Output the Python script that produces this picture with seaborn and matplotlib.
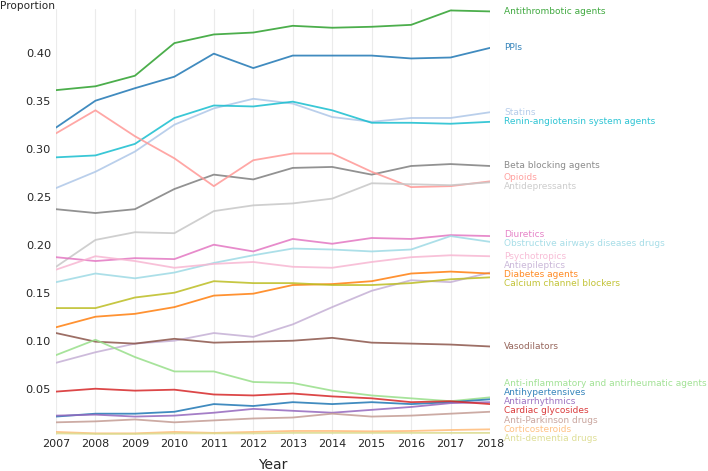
import numpy as np
import pandas as pd
import matplotlib
matplotlib.use("Agg")
import matplotlib.pyplot as plt
import seaborn as sns
from matplotlib.ticker import FormatStrFormatter

# ---------------- data ----------------
years = [2007, 2008, 2009, 2010, 2011, 2012, 2013, 2014, 2015, 2016, 2017, 2018]

antithrombotic = [0.361, 0.365, 0.376, 0.410, 0.419, 0.421, 0.428, 0.426, 0.427, 0.429, 0.444, 0.443]
ppis = [0.322, 0.350, 0.363, 0.375, 0.399, 0.384, 0.397, 0.397, 0.397, 0.394, 0.395, 0.405]
statins = [0.259, 0.276, 0.297, 0.325, 0.342, 0.352, 0.347, 0.333, 0.328, 0.332, 0.332, 0.338]
renin = [0.291, 0.293, 0.305, 0.332, 0.345, 0.344, 0.349, 0.340, 0.327, 0.327, 0.326, 0.328]
beta_blocking = [0.237, 0.233, 0.237, 0.258, 0.273, 0.268, 0.280, 0.281, 0.273, 0.282, 0.284, 0.282]
opioids = [0.316, 0.340, 0.313, 0.290, 0.261, 0.288, 0.295, 0.295, 0.276, 0.260, 0.261, 0.266]
antidepressants = [0.177, 0.205, 0.213, 0.212, 0.235, 0.241, 0.243, 0.248, 0.264, 0.263, 0.262, 0.265]
diuretics = [0.187, 0.183, 0.186, 0.185, 0.200, 0.193, 0.206, 0.201, 0.207, 0.206, 0.210, 0.209]
obstructive = [0.161, 0.170, 0.165, 0.171, 0.181, 0.189, 0.196, 0.195, 0.193, 0.195, 0.209, 0.203]
psychotropics = [0.174, 0.188, 0.183, 0.176, 0.180, 0.182, 0.177, 0.176, 0.182, 0.187, 0.189, 0.188]
antiepileptics = [0.077, 0.088, 0.097, 0.100, 0.108, 0.104, 0.117, 0.135, 0.152, 0.163, 0.161, 0.171]
diabetes = [0.114, 0.125, 0.128, 0.135, 0.147, 0.149, 0.158, 0.159, 0.162, 0.170, 0.172, 0.170]
calcium = [0.134, 0.134, 0.145, 0.150, 0.162, 0.160, 0.160, 0.158, 0.158, 0.160, 0.164, 0.166]
vasodilators = [0.108, 0.099, 0.097, 0.102, 0.098, 0.099, 0.100, 0.103, 0.098, 0.097, 0.096, 0.094]
anti_inflammatory = [0.085, 0.101, 0.083, 0.068, 0.068, 0.057, 0.056, 0.048, 0.043, 0.040, 0.037, 0.041]
antihypertensives = [0.021, 0.024, 0.024, 0.026, 0.034, 0.032, 0.036, 0.034, 0.036, 0.034, 0.036, 0.039]
antiarrhythmics = [0.022, 0.023, 0.021, 0.022, 0.025, 0.029, 0.027, 0.025, 0.028, 0.031, 0.035, 0.036]
cardiac_glycosides = [0.047, 0.050, 0.048, 0.049, 0.044, 0.043, 0.045, 0.042, 0.040, 0.036, 0.037, 0.034]
anti_parkinson = [0.015, 0.016, 0.018, 0.015, 0.017, 0.019, 0.020, 0.024, 0.021, 0.022, 0.024, 0.026]
corticosteroids = [0.005, 0.0035, 0.0035, 0.005, 0.004, 0.005, 0.006, 0.006, 0.0056, 0.006, 0.007, 0.0077]
anti_dementia = [0.0035, 0.003, 0.003, 0.0035, 0.0035, 0.0035, 0.004, 0.004, 0.004, 0.004, 0.004, 0.004]

series = {
    "Antithrombotic agents": antithrombotic,
    "PPIs": ppis,
    "Statins": statins,
    "Renin-angiotensin system agents": renin,
    "Beta blocking agents": beta_blocking,
    "Opioids": opioids,
    "Antidepressants": antidepressants,
    "Diuretics": diuretics,
    "Obstructive airways diseases drugs": obstructive,
    "Psychotropics": psychotropics,
    "Antiepileptics": antiepileptics,
    "Diabetes agents": diabetes,
    "Calcium channel blockers": calcium,
    "Vasodilators": vasodilators,
    "Anti-inflammatory and antirheumatic agents": anti_inflammatory,
    "Antihypertensives": antihypertensives,
    "Antiarrhythmics": antiarrhythmics,
    "Cardiac glycosides": cardiac_glycosides,
    "Anti-Parkinson drugs": anti_parkinson,
    "Corticosteroids": corticosteroids,
    "Anti-dementia drugs": anti_dementia,
}

palette = {
    "PPIs": "#1f77b4",
    "Statins": "#aec7e8",
    "Diabetes agents": "#ff7f0e",
    "Corticosteroids": "#ffbb78",
    "Antithrombotic agents": "#2ca02c",
    "Anti-inflammatory and antirheumatic agents": "#98df8a",
    "Cardiac glycosides": "#d62728",
    "Opioids": "#ff9896",
    "Antiarrhythmics": "#9467bd",
    "Antiepileptics": "#c5b0d5",
    "Vasodilators": "#8c564b",
    "Anti-Parkinson drugs": "#c49c94",
    "Diuretics": "#e377c2",
    "Psychotropics": "#f7b6d2",
    "Beta blocking agents": "#7f7f7f",
    "Antidepressants": "#c7c7c7",
    "Calcium channel blockers": "#bcbd22",
    "Anti-dementia drugs": "#dbdb8d",
    "Renin-angiotensin system agents": "#17becf",
    "Obstructive airways diseases drugs": "#9edae5",
    "Antihypertensives": "#1f77b4",
}

names = list(series.keys())
df = pd.DataFrame(
    [(y, v, n) for n in names for y, v in zip(years, series[n])],
    columns=["Year", "Proportion", "Drug"],
)

# ---------------- figure ----------------
sns.set_theme(style="whitegrid")
plt.rcParams["font.family"] = ["DejaVu Sans"]

W, H = 708, 471
fig = plt.figure(figsize=(W / 100, H / 100), dpi=100)
ax_left, ax_right, ax_top, ax_bottom = 56, 490, 9.3, 435
ax = fig.add_axes([ax_left / W, 1 - ax_bottom / H, (ax_right - ax_left) / W, (ax_bottom - ax_top) / H])

sns.lineplot(data=df, x="Year", y="Proportion", hue="Drug", hue_order=names,
             palette=palette, legend=False, ax=ax, linewidth=1.3, alpha=0.85)

ax.set_xlim(2007, 2018)
ax.set_ylim(0.0018, 0.4452)
ax.set_xticks(years)
ax.set_xticklabels([str(y) for y in years])
ax.set_yticks([0.05, 0.10, 0.15, 0.20, 0.25, 0.30, 0.35, 0.40])
ax.yaxis.set_major_formatter(FormatStrFormatter("%.2f"))
ax.tick_params(axis="y", labelsize=8.2, length=0, pad=3.6, colors="#262626")
ax.tick_params(axis="x", labelsize=8.0, length=0, pad=2.8, colors="#262626")
ax.grid(axis="y", visible=False)
ax.grid(axis="x", color="#ebebeb", linewidth=0.8)
for s in ax.spines.values():
    s.set_visible(False)

ax.set_ylabel("")
ax.set_xlabel("Year", fontsize=10, color="#262626")
ax.xaxis.set_label_coords(0.5, -(465 - ax_bottom) / (ax_bottom - ax_top))
ax.xaxis.label.set_va("center")
fig.text(0.0, 1 - 6 / H, "Proportion", ha="left", va="center", fontsize=7.6, color="#262626")

# ---------------- end labels with simple de-overlap ----------------
gap = 0.0095
items = sorted([(series[n][-1], n) for n in names], key=lambda t: -t[0])
clusters = [[it] for it in items]


def place(cl):
    c = np.mean([t[0] for t in cl])
    k = len(cl)
    return [c + ((k - 1) / 2 - i) * gap for i in range(k)]


changed = True
while changed:
    changed = False
    for i in range(len(clusters) - 1):
        a = place(clusters[i])
        b = place(clusters[i + 1])
        if a[-1] - b[0] < gap - 1e-9:
            clusters[i] = clusters[i] + clusters[i + 1]
            del clusters[i + 1]
            changed = True
            break

trans = ax.get_yaxis_transform()
label_x = 1 + (504 - ax_right) / (ax_right - ax_left)
for cl in clusters:
    for (v, n), yp in zip(cl, place(cl)):
        ax.text(label_x, yp, n, transform=trans, color=palette[n], alpha=0.9,
                fontsize=6.5, ha="left", va="center", clip_on=False)

fig.savefig("out.png", dpi=100)
